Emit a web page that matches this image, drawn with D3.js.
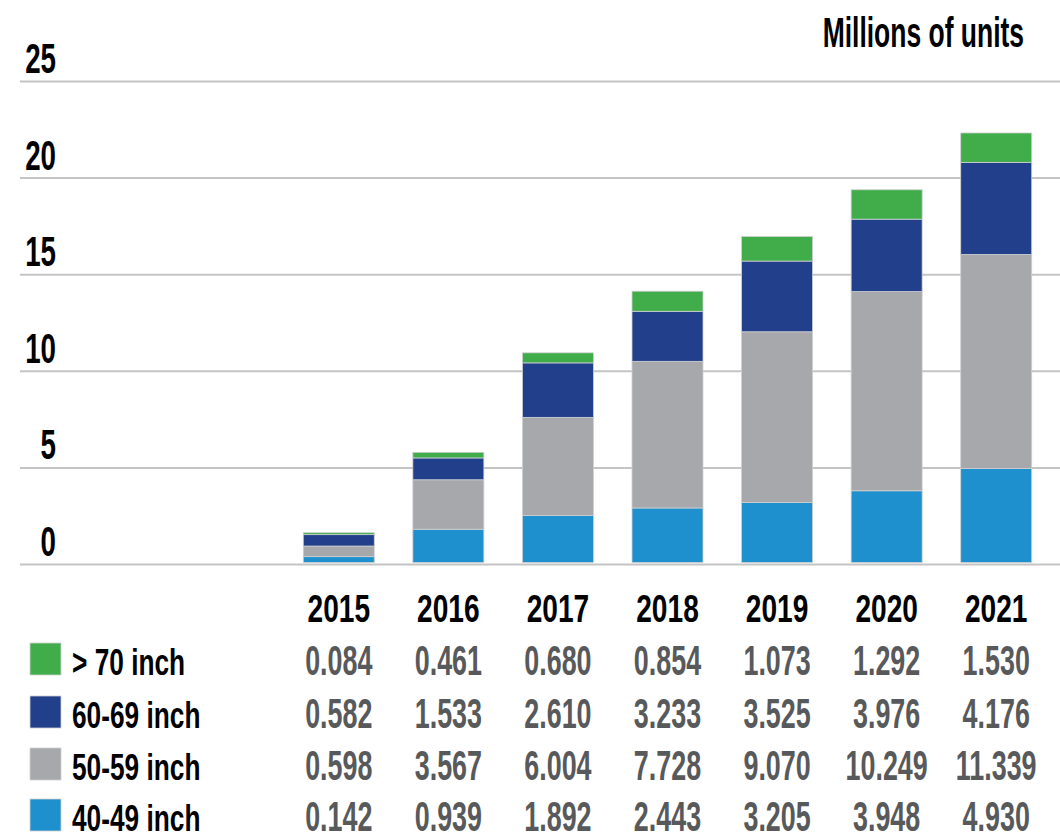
<!DOCTYPE html>
<html>
<head>
<meta charset="utf-8">
<script src="https://cdn.jsdelivr.net/npm/d3@7"></script>
<style>
  html, body { margin: 0; padding: 0; background: #fff; }
  svg { display: block; }
  text { font-family: "Liberation Sans", Arial, sans-serif; font-weight: bold; }
</style>
</head>
<body>
<svg id="chart" width="1060" height="835"></svg>
<script>
// ---------- data ----------
const years = ["2015", "2016", "2017", "2018", "2019", "2020", "2021"];
const seriesNames = ["> 70 inch", "60-69 inch", "50-59 inch", "40-49 inch"];
const seriesKeys = ["gt70", "s60", "s50", "s40"];
const seriesColors = ["#40ad4a", "#223f8b", "#a7a8ab", "#1f90ce"];

// bar heights as drawn in the picture (millions of units)
const gt70 = [0.10, 0.29, 0.52, 1.04, 1.27, 1.52, 1.52];
const s60 = [0.59, 1.13, 2.82, 2.59, 3.66, 3.75, 4.77];
const s50 = [0.55, 2.56, 5.08, 7.59, 8.84, 10.31, 11.08];
const s40 = [0.38, 1.80, 2.51, 2.90, 3.18, 3.79, 4.94];

// numbers printed in the table below the chart
const tableGt70 = ["0.084", "0.461", "0.680", "0.854", "1.073", "1.292", "1.530"];
const tableS60 = ["0.582", "1.533", "2.610", "3.233", "3.525", "3.976", "4.176"];
const tableS50 = ["0.598", "3.567", "6.004", "7.728", "9.070", "10.249", "11.339"];
const tableS40 = ["0.142", "0.939", "1.892", "2.443", "3.205", "3.948", "4.930"];

const yTicks = [0, 5, 10, 15, 20, 25];
const unitLabel = "Millions of units";

// ---------- build ----------
const svg = d3.select("#chart");

const x = d3.scaleBand().domain(years).range([284, 1051]).paddingInner(0.352).paddingOuter(0.176);
const y = d3.scaleLinear().domain([0, 25]).range([564, 81]);

// condensed text helper
function ctext(parent, str, tx, ty, sx, opts) {
  const g = parent.append("g").attr("transform", `translate(${tx},${ty}) scale(${sx},1)`);
  return g.append("text")
    .attr("x", 0).attr("y", 0)
    .attr("text-anchor", opts.anchor || "start")
    .attr("font-size", opts.size)
    .attr("fill", opts.fill || "#000")
    .text(str);
}

// y axis with grid lines
const axisG = svg.append("g").attr("transform", "translate(20,0)")
  .call(d3.axisLeft(y).tickValues(yTicks).tickSize(-1040).tickPadding(0).tickFormat(d3.format("d")));
axisG.select(".domain").remove();
axisG.selectAll(".tick line").attr("stroke", "#c4c4c4").attr("stroke-width", 2);
axisG.selectAll(".tick text").each(function(d) {
  const t = d3.select(this);
  t.attr("x", 0).attr("dy", 0).attr("y", 0)
   .attr("text-anchor", "end")
   .attr("font-size", 42)
   .attr("font-family", "Liberation Sans, Arial, sans-serif")
   .attr("font-weight", "bold")
   .attr("fill", "#000")
   .attr("transform", "translate(36,-8.5) scale(0.66,1)");
});

// stacked bars
const rows = years.map((yr, i) => ({ year: yr, s40: s40[i], s50: s50[i], s60: s60[i], gt70: gt70[i] }));
const stack = d3.stack().keys(["s40", "s50", "s60", "gt70"]);
const stacked = stack(rows);
const colorOf = { gt70: seriesColors[0], s60: seriesColors[1], s50: seriesColors[2], s40: seriesColors[3] };

svg.append("g").selectAll("g")
  .data(stacked)
  .join("g")
  .attr("fill", d => colorOf[d.key])
  .selectAll("rect")
  .data(d => d)
  .join("rect")
  .attr("x", d => x(d.data.year))
  .attr("width", x.bandwidth())
  .attr("y", d => y(d[1]))
  .attr("height", d => y(d[0]) - y(d[1]) - (d[0] === 0 ? 1.5 : 0))
  .attr("stroke", "#cfd0d2")
  .attr("stroke-width", 0.8);

// unit label
ctext(svg, unitLabel, 1024, 47, 0.63, { anchor: "end", size: 42 });

// table: year header
years.forEach(yr => {
  ctext(svg, yr, x(yr) + x.bandwidth() / 2, 622, 0.74, { anchor: "middle", size: 38 });
});

// table rows
const tables = [tableGt70, tableS60, tableS50, tableS40];
const rowBaselines = [675, 728, 780, 831];
tables.forEach((vals, r) => {
  const base = rowBaselines[r];
  svg.append("rect")
    .attr("x", 30).attr("y", base - 32)
    .attr("width", 31).attr("height", 32)
    .attr("fill", seriesColors[r])
    .attr("stroke", "#cfd0d2").attr("stroke-width", 0.8);
  ctext(svg, seriesNames[r], 72, base, 0.71, { anchor: "start", size: 37 });
  vals.forEach((v, i) => {
    ctext(svg, v, x(years[i]) + x.bandwidth() / 2, base, 0.64, { anchor: "middle", size: 42, fill: "#58595b" });
  });
});
</script>
</body>
</html>
